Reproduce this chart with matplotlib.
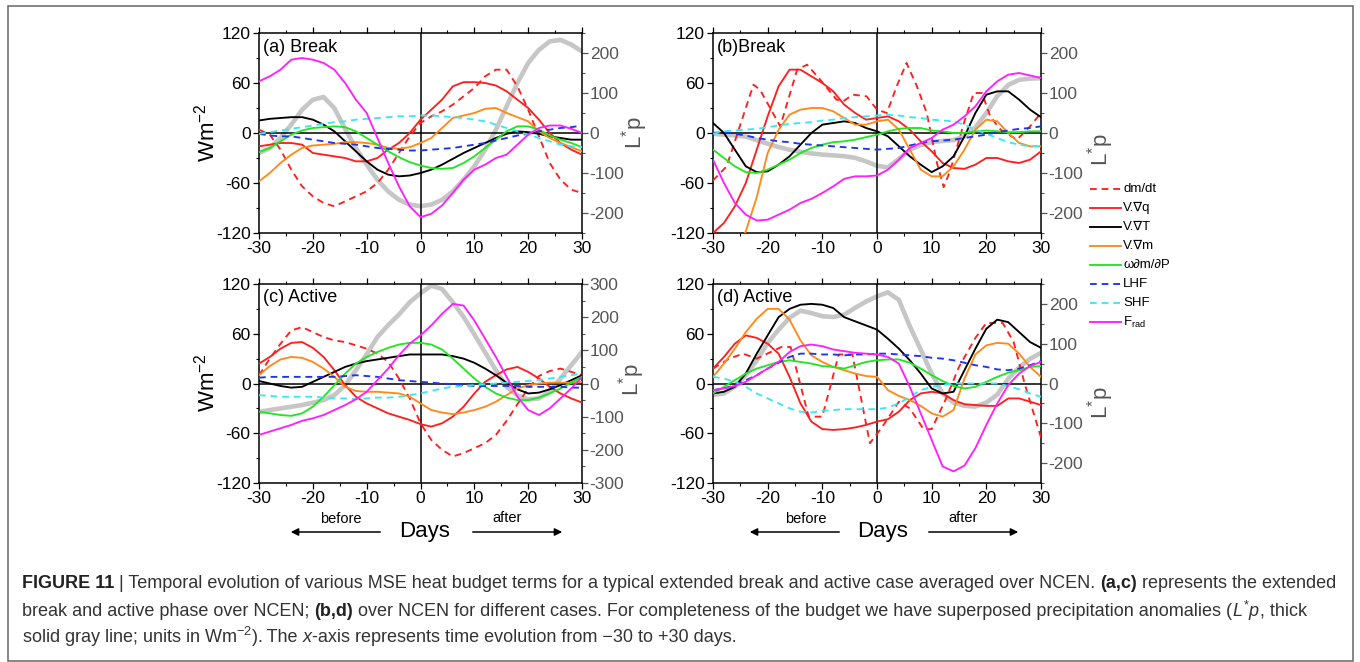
import numpy as np
import matplotlib
matplotlib.use('Agg')
import matplotlib.pyplot as plt
from matplotlib.lines import Line2D
from matplotlib.patches import Rectangle, FancyArrowPatch
from matplotlib.ticker import MultipleLocator

plt.rcParams['font.family'] = ['Liberation Sans', 'DejaVu Sans']
plt.rcParams['mathtext.fontset'] = 'custom'
plt.rcParams['mathtext.rm'] = 'Liberation Sans'
plt.rcParams['mathtext.it'] = 'Liberation Sans:italic'
plt.rcParams['mathtext.bf'] = 'Liberation Sans:bold'
plt.rcParams['axes.unicode_minus'] = False

# ---------------- data ----------------
days = list(range(-30, 31, 2))

# (a) Break
a_dmdt = [4, -2, -20, -44, -64, -76, -84, -88, -82, -76, -70, -60, -44, -24, -4, 12,
          20, 26, 34, 44, 54, 68, 76, 76, 56, 28, -4, -36, -56, -68, -72]
a_vq = [-16, -14, -12, -12, -14, -24, -26, -28, -30, -34, -34, -30, -20, -12, 0, 16,
        28, 40, 56, 61, 61, 60, 57, 50, 40, 30, 16, 0, -12, -20, -26]
a_vt = [15, 17, 18, 19, 19, 16, 10, 2, -10, -22, -34, -44, -50, -52, -51, -48,
        -44, -38, -31, -24, -18, -12, -6, -1, 2, 1, -1, -4, -6, -8, -8]
a_vm = [-58, -48, -36, -26, -18, -15, -14, -13, -11, -11, -12, -14, -18, -19, -17, -12,
        -6, 6, 18, 21, 24, 29, 30, 24, 19, 14, 2, -6, -12, -17, -22]
a_wdm = [-23, -18, -10, -2, 3, 6, 7, 8, 7, 2, -6, -14, -22, -29, -35, -39,
         -42, -43, -42, -36, -28, -18, -8, 2, 8, 8, 4, -3, -8, -12, -17]
a_lhf = [-1, -3, -4, -4, -6, -8, -10, -12, -13, -14, -16, -18, -19, -20, -21, -21,
         -20, -19, -18, -16, -14, -12, -9, -6, -3, -1, 2, 4, 6, 7, 9]
a_shf = [-1, 1, 3, 5, 7, 9, 11, 13, 14, 16, 17, 18, 19, 20, 20, 21,
         21, 20, 19, 18, 16, 14, 10, 6, 2, -2, -6, -10, -14, -16, -17]
a_frad = [62, 68, 76, 88, 90, 88, 84, 76, 60, 40, 24, -6, -36, -64, -88, -101,
          -97, -87, -72, -56, -44, -38, -30, -26, -14, -2, 6, 9, 9, 5, 0]
a_lp = [-50, -38, -12, 21, 58, 83, 90, 62, 10, -38, -79, -117, -146, -167, -179, -183,
        -179, -167, -146, -117, -83, -42, 8, 67, 125, 175, 208, 229, 233, 221, 204]

# (b) Break
b_dmdt_days = [-30, -27.5, -22.6, -21.4, -17.7, -14.6, -12.8, -10.4, -7.4, -6.2, -4.4, -1.9, 0,
               1.8, 3.6, 5.4, 7.3, 9.1, 11, 12.2, 13.4, 15.9, 17.7, 19.2, 20.7, 22.6, 25.6, 28, 30]
b_dmdt = [-57, -40, 58, 52, 8, 76, 82, 64, 40, 38, 46, 44, 28,
          24, 56, 84, 56, 24, -37, -65, -45, 12, 48, 48, 20, 4, -8, 8, 24]
b_vq = [-120, -108, -88, -60, -20, 20, 56, 76, 76, 68, 60, 50, 34, 24, 16, 18,
        20, 14, 4, -10, -22, -36, -42, -43, -38, -30, -30, -34, -36, -32, -22]
b_vt = [12, 0, -20, -40, -47, -46, -38, -28, -14, 0, 10, 12, 14, 12, 6, 2,
        -4, -16, -28, -38, -47, -40, -28, -4, 24, 46, 50, 50, 40, 28, 19]
b_vm = [-190, -170, -145, -118, -77, -24, 4, 22, 28, 30, 30, 26, 18, 10, 10, 14,
        16, 4, -20, -44, -52, -52, -40, -20, 4, 16, 14, 0, -12, -16, -16]
b_wdm = [-20, -30, -40, -47, -48, -44, -38, -32, -24, -18, -14, -11, -10, -8, -5, -2,
         2, 5, 6, 6, 3, 2, 0, 0, 2, 3, 2, 1, 1, 2, 2]
b_lhf = [0, 1, -1, -3, -6, -8, -10, -11, -13, -14, -15, -16, -17, -18, -19, -20,
         -19, -18, -15, -12, -10, -9, -8, -6, -4, -2, 1, 3, 5, 6, 8]
b_shf = [-1, 2, 3, 4, 5, 7, 9, 11, 12, 13, 15, 16, 18, 19, 20, 21,
         22, 21, 19, 18, 16, 15, 14, 10, 4, -1, -6, -11, -14, -16, -16]
b_frad = [-32, -60, -84, -98, -105, -104, -98, -92, -84, -79, -72, -64, -55, -52, -52, -51,
          -44, -32, -18, -12, -6, 4, 10, 20, 32, 50, 62, 70, 72, 69, 66]
b_lp = [-2, -4, -6, -9, -18, -27, -35, -42, -47, -51, -54, -56, -58, -62, -71, -82,
        -86, -65, -42, -30, -23, -20, -18, -8, 14, 50, 92, 120, 133, 136, 137]

# (c) Active
c_dmdt = [10, 30, 48, 64, 68, 62, 56, 52, 50, 46, 42, 36, 26, 6, -18, -48,
          -68, -80, -88, -84, -78, -72, -62, -45, -25, -6, 9, 15, 18, 14, 10]
c_vq = [24, 32, 42, 49, 50, 43, 32, 16, -2, -16, -24, -30, -36, -40, -44, -49,
        -52, -48, -40, -28, -12, 2, 10, 17, 20, 14, 6, -4, -12, -18, -23]
c_vt = [3, 0, -3, -5, -4, 2, 8, 14, 20, 24, 27, 29, 31, 33, 35, 35,
        35, 35, 33, 30, 25, 18, 10, 1, -7, -12, -11, -7, -2, 4, 10]
c_vm = [10, 21, 29, 32, 31, 26, 18, 8, -4, -9, -10, -10, -11, -12, -16, -24,
        -32, -35, -37, -35, -32, -28, -22, -14, -6, -2, 0, 1, 1, 1, 2]
c_wdm = [-34, -36, -38, -39, -36, -28, -16, -2, 12, 24, 32, 38, 43, 47, 49, 49,
         47, 41, 30, 18, 6, -4, -12, -17, -20, -20, -17, -12, -6, 1, 8]
c_lhf = [7, 8, 8, 8, 8, 8, 8, 8, 9, 10, 9, 8, 6, 4, 3, 2,
         1, 0, -1, -2, -3, -3, -3, -3, -3, -4, -4, -4, -4, -5, -5]
c_shf = [-14, -15, -16, -16, -16, -16, -17, -18, -18, -19, -18, -17, -17, -16, -14, -12,
         -9, -6, -4, -3, -2, -1, 0, 1, 2, 3, 4, 6, 8, 10, 12]
c_frad = [-62, -58, -54, -50, -45, -42, -38, -32, -26, -19, -10, 4, 18, 34, 48, 58,
          70, 84, 96, 94, 76, 54, 32, 8, -16, -32, -38, -30, -18, -6, 8]
c_lp = [-86, -80, -75, -70, -65, -58, -50, -35, -5, 40, 88, 140, 176, 208, 245, 272,
        295, 285, 245, 201, 148, 94, 40, -10, -36, -48, -45, -25, 15, 55, 95]

# (d) Active
d_dmdt_days = [-30, -27, -24.5, -22, -17.5, -15.8, -12.5, -10, -7, -4.5, -1.3, 1, 4, 6,
               8.5, 10, 12.5, 15, 18, 20, 23, 25, 27, 30]
d_dmdt = [18, 30, 36, 30, 44, 44, -40, -40, 35, 35, -72, -52, -22, -30,
          -55, -55, -20, 20, 55, 73, 73, 50, 0, -65]
d_vq = [18, 32, 48, 58, 55, 48, 36, 8, -24, -46, -55, -56, -55, -53, -50, -46,
        -43, -34, -20, -12, -10, -12, -20, -25, -26, -27, -27, -18, -18, -22, -26]
d_vt = [-12, -10, -4, 12, 36, 58, 80, 90, 95, 96, 95, 91, 80, 75, 70, 65,
        54, 42, 28, 12, -6, -12, -10, 16, 42, 66, 77, 74, 62, 50, 43]
d_vm = [8, 24, 42, 62, 78, 90, 90, 77, 52, 34, 26, 20, 16, 12, 9, 8,
        -8, -15, -20, -27, -36, -40, -32, 6, 35, 46, 49, 48, 36, 20, 8]
d_wdm = [-12, -4, 4, 12, 18, 22, 26, 28, 26, 24, 21, 20, 18, 22, 26, 28,
         29, 29, 25, 18, 10, 3, -3, -6, -4, 2, 8, 13, 16, 20, 21]
d_lhf = [-8, -6, -2, 4, 10, 18, 25, 32, 36, 36, 35, 35, 34, 35, 35, 36,
         36, 35, 34, 33, 31, 30, 28, 25, 22, 20, 17, 16, 18, 22, 27]
d_shf = [8, 6, 2, -4, -12, -18, -24, -30, -34, -35, -33, -32, -31, -31, -31, -31,
         -29, -24, -16, -8, -4, -2, 0, 0, 0, 0, 0, -3, -7, -12, -16]
d_frad = [-8, -6, -3, 2, 10, 18, 26, 38, 45, 47, 45, 41, 39, 37, 36, 35,
          32, 24, -4, -36, -68, -100, -106, -99, -78, -50, -24, -2, 12, 21, 26]
d_lp = [-29, -25, -8, 21, 58, 102, 135, 165, 183, 177, 169, 167, 173, 190, 206, 219,
        229, 210, 144, 85, 25, -25, -48, -56, -58, -48, -28, 12, 40, 62, 77]

legend_labels = ['dm/dt', 'V.\u2207q', 'V.\u2207T', 'V.\u2207m', '\u03c9\u2202m/\u2202P',
                 'LHF', 'SHF', 'F$_{\\rm rad}$']
panel_titles = ['(a) Break', '(b)Break', '(c) Active', '(d) Active']

# ---------------- styles ----------------
DASH = (0, (3.6, 2.6))
styles = [
    dict(color='#ff1f1f', ls=DASH),
    dict(color='#ff1f1f', ls='-'),
    dict(color='#000000', ls='-'),
    dict(color='#ff8a1a', ls='-'),
    dict(color='#22e622', ls='-'),
    dict(color='#1f35e6', ls=DASH),
    dict(color='#3ce8f0', ls=DASH),
    dict(color='#ff1fff', ls='-'),
]
LW = 1.35
GRAY = '#c6c6c6'
TXT_GRAY = '#555555'

W, H = 1360, 662
fig = plt.figure(figsize=(W / 100, H / 100), dpi=100)


def fx(px):
    return px / W


def fy(py):
    return 1 - py / H


def add_ax(x0, y0, x1, y1):
    return fig.add_axes([fx(x0), fy(y1), (x1 - x0) / W, (y1 - y0) / H])


def draw_panel(box, series, lp, lp_lim, title, dm_x=None):
    ax = add_ax(*box)
    ax2 = ax.twinx()
    ax.set_zorder(ax2.get_zorder() + 1)
    ax.patch.set_visible(False)

    ax2.plot(days, lp, color=GRAY, lw=3.3, solid_capstyle='round', solid_joinstyle='round')
    ax2.set_ylim(-lp_lim, lp_lim)
    ax2.yaxis.set_major_locator(MultipleLocator(100))
    ax2.yaxis.set_minor_locator(MultipleLocator(50))
    ax2.tick_params(axis='y', which='both', direction='out', colors=TXT_GRAY,
                    labelsize=12.5, pad=1)
    ax2.tick_params(axis='y', which='major', length=4.5, width=0.9)
    ax2.tick_params(axis='y', which='minor', length=2.5, width=0.8)
    for sp in ax2.spines.values():
        sp.set_visible(False)

    ax.axhline(0, color='black', lw=1.1, zorder=1)
    ax.axvline(0, color='black', lw=1.1, zorder=1)
    for i, (vals, st) in enumerate(zip(series, styles)):
        xs = dm_x if (i == 0 and dm_x is not None) else days
        ax.plot(xs, vals, color=st['color'], ls=st['ls'], lw=LW, zorder=3 + i)

    ax.set_xlim(-30, 30)
    ax.set_ylim(-120, 120)
    ax.xaxis.set_major_locator(MultipleLocator(10))
    ax.xaxis.set_minor_locator(MultipleLocator(5))
    ax.yaxis.set_major_locator(MultipleLocator(60))
    ax.yaxis.set_minor_locator(MultipleLocator(30))
    ax.tick_params(which='both', direction='out', top=True, labelsize=12.5, pad=1.5)
    ax.tick_params(which='major', length=4.5, width=0.9)
    ax.tick_params(which='minor', length=2.5, width=0.8)
    for sp in ax.spines.values():
        sp.set_linewidth(1.1)
    ax.text(0.012, 0.93, title, transform=ax.transAxes, fontsize=13, va='center', ha='left')
    return ax


A_BOX = (259, 33, 582, 233)
B_BOX = (713, 33, 1041, 233)
C_BOX = (259, 284, 582, 483)
D_BOX = (713, 284, 1041, 483)

draw_panel(A_BOX, [a_dmdt, a_vq, a_vt, a_vm, a_wdm, a_lhf, a_shf, a_frad], a_lp, 250, panel_titles[0])
draw_panel(B_BOX, [b_dmdt, b_vq, b_vt, b_vm, b_wdm, b_lhf, b_shf, b_frad], b_lp, 250, panel_titles[1],
           dm_x=b_dmdt_days)
draw_panel(C_BOX, [c_dmdt, c_vq, c_vt, c_vm, c_wdm, c_lhf, c_shf, c_frad], c_lp, 300, panel_titles[2])
draw_panel(D_BOX, [d_dmdt, d_vq, d_vt, d_vm, d_wdm, d_lhf, d_shf, d_frad], d_lp, 250, panel_titles[3],
           dm_x=d_dmdt_days)

# axis labels
for (px, py) in [(207, 133), (207, 383)]:
    fig.text(fx(px), fy(py), 'Wm$^{-2}$', fontsize=16, rotation=90, ha='center', va='center')
for (px, py) in [(635, 133), (1101, 150), (632, 380), (1101, 403)]:
    fig.text(fx(px), fy(py), 'L$^{*}$p', fontsize=16, rotation=90, ha='center', va='center',
             color=TXT_GRAY)

# Days / before / after
for (days_x, bef_x, aft_x, la, ra) in [(425, 341, 507, (383, 288), (470, 565)),
                                       (883, 806, 963, (842, 747), (926, 1021))]:
    fig.text(fx(days_x), fy(531), 'Days', fontsize=16, ha='center', va='center')
    fig.text(fx(bef_x), fy(519), 'before', fontsize=10.5, ha='center', va='center')
    fig.text(fx(aft_x), fy(518), 'after', fontsize=10.5, ha='center', va='center')
    for (s, e) in [la, ra]:
        fig.patches.append(FancyArrowPatch(
            (fx(s), fy(532)), (fx(e), fy(532)), transform=fig.transFigure,
            arrowstyle='-|>', mutation_scale=11, lw=1.1, color='black'))

# legend (manual)
leg_y0, leg_dy = 189, 19
for i, (lab, st) in enumerate(zip(legend_labels, styles)):
    y = leg_y0 + i * leg_dy
    fig.lines.append(Line2D([fx(1090), fx(1121)], [fy(y), fy(y)], transform=fig.transFigure,
                            color=st['color'], ls=st['ls'], lw=LW))
    fig.text(fx(1123), fy(y), lab, fontsize=9.5, ha='left', va='center')

# frame
fig.patches.append(Rectangle((fx(8), fy(661)), (1353 - 8) / W, (661 - 6) / H,
                             transform=fig.transFigure, fill=False, ec='#666666', lw=1.1))

# caption
CAP = '#333333'
cap_lines = [
    [('FIGURE 11', 'bold'), (' | Temporal evolution of various MSE heat budget terms for a typical '
                             'extended break and active case averaged over NCEN.', 'normal'),
     (' ', 'normal'), ('(a,c)', 'bold'), (' represents the extended', 'normal')],
    [('break and active phase over NCEN;', 'normal'), (' ', 'normal'), ('(b,d)', 'bold'),
     (' over NCEN for different cases. For completeness of the budget we have superposed '
      'precipitation anomalies (', 'normal'), ('$L^{*}p$', 'normal'), (', thick', 'normal')],
    [('solid gray line; units in Wm$^{-2}$).', 'normal'), (' The', 'normal'), (' ', 'normal'),
     ('x', 'italic'), ('-axis represents time evolution from \u221230 to +30 days.', 'normal')],
]
cap_y = [583, 611, 637]
renderer = fig.canvas.get_renderer()
SPACE_W = {}


def piece_width(t, txt, size):
    if txt.strip() == '':
        # width of a space: measure 'a a' minus 'aa'
        if size not in SPACE_W:
            t1 = fig.text(0, 0, 'a a', fontsize=size)
            t2 = fig.text(0, 0, 'aa', fontsize=size)
            SPACE_W[size] = (t1.get_window_extent(renderer).width
                             - t2.get_window_extent(renderer).width) * len(txt)
            t1.remove()
            t2.remove()
        return SPACE_W[size]
    return t.get_window_extent(renderer).width


def draw_line(pieces, x0, y, size):
    x = x0
    objs = []
    for txt, wt in pieces:
        kw = dict(fontsize=size, ha='left', va='center', color=CAP)
        if wt == 'bold':
            kw['fontweight'] = 'bold'
            kw['color'] = '#222222'
        if wt == 'italic':
            kw['fontstyle'] = 'italic'
        t = fig.text(fx(x), fy(y), txt, **kw)
        x = x + piece_width(t, txt, size)
        objs.append(t)
    return x, objs


# choose a size so that the first line spans the caption width
end, objs = draw_line(cap_lines[0], 22, cap_y[0], 12)
for o in objs:
    o.remove()
cap_size = 12 * (1338 - 22) / (end - 22)
for pieces, y in zip(cap_lines, cap_y):
    draw_line(pieces, 22, y, cap_size)

fig.savefig('out.png', dpi=100)
